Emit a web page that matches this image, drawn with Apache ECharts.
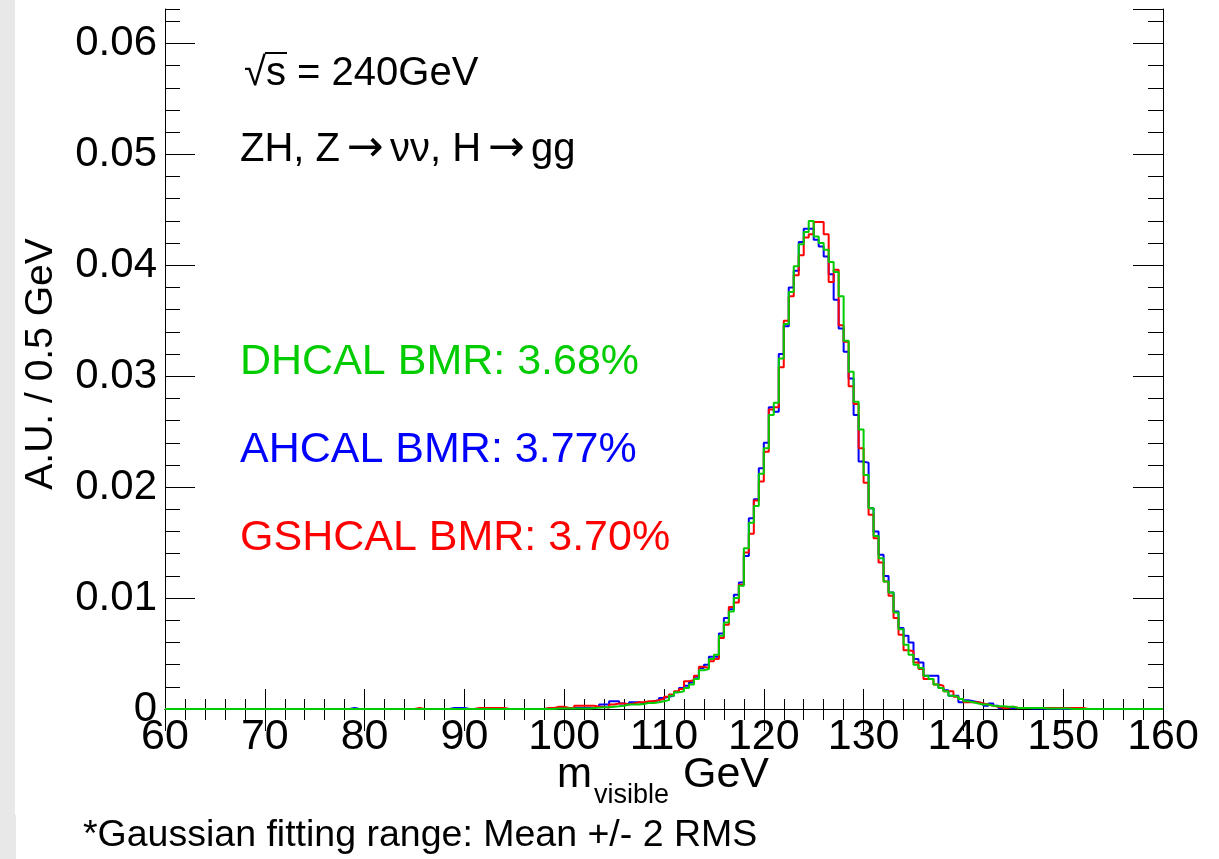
<!DOCTYPE html>
<html>
<head>
<meta charset="utf-8">
<script src="https://cdn.jsdelivr.net/npm/echarts@6/dist/echarts.min.js"></script>
<style>
html,body{margin:0;padding:0;background:#fff;}
#chart{width:1219px;height:859px;}
</style>
</head>
<body>
<div id="chart"></div>
<script>
// Histogram: 200 bins of 0.5 GeV from 60 to 160 GeV (values = bin contents, A.U.)
const binLow = 60;
const binWidth = 0.5;
const xTicks = [60, 70, 80, 90, 100, 110, 120, 130, 140, 150, 160];
const yTicks = [0, 0.01, 0.02, 0.03, 0.04, 0.05, 0.06];

const dhcal = [ // green
0,0,0,0,0,0,0,0,0,0,
0,0,0,0,0,0,0,0,0,0,
0,0,0,0,0,0,0,0,0,0,
0,0,0,0,0,0,0,0,0,0,
0,0,0,0,0,0,0,0,0,0,
0,0,0,0,0,0,0,0,0,0,
0,0,0,0,0,0,0,0,0,0,
0,0,0,0,0,0,0,0,0.00005,0.00005,
0.00005,0.00005,0.00005,0.00005,0.00005,0.0001,0.00012,0.00015,0.00015,0.0002,
0.00024,0.0003,0.0004,0.0004,0.0004,0.00045,0.00055,0.00055,0.0006,0.0007,
0.0008,0.0012,0.0015,0.0016,0.0019,0.0022,0.0027,0.0035,0.0036,0.0045,
0.0049,0.0066,0.0078,0.0088,0.0100,0.0111,0.0145,0.0168,0.0183,0.0212,
0.0235,0.0265,0.0276,0.0316,0.0347,0.0376,0.0399,0.0419,0.0430,0.0440,
0.0426,0.0420,0.0414,0.0403,0.0394,0.0372,0.0332,0.0304,0.0277,0.0252,
0.0211,0.0181,0.0156,0.0136,0.0115,0.0105,0.0087,0.0072,0.0058,0.0049,
0.0040,0.0037,0.0030,0.0027,0.0022,0.0019,0.0016,0.0012,0.0011,0.0009,
0.0007,0.0006,0.0005,0.0004,0.0004,0.0003,0.00025,0.00025,0.0002,0.0002,
0.0001,0.0001,0.0001,0.0001,0.0001,0.0001,0.00005,0.00005,0.00005,0.00005,
0.00005,0,0,0,0,0,0,0,0,0,
0,0,0,0,0,0,0,0,0,0
];

const ahcal = [ // blue
0,0,0,0,0,0,0,0,0,0,
0,0,0,0,0,0,0,0,0,0,
0,0,0,0,0,0,0,0,0,0,
0,0,0,0,0,0,0,0.0001,0,0,
0,0,0,0,0,0,0,0,0,0,
0,0,0,0,0,0,0,0.0001,0.0001,0.0001,
0,0,0,0,0,0,0,0,0,0,
0,0,0,0,0,0,0.00005,0.00005,0.0001,0.0001,
0.0001,0.0001,0.0001,0.0001,0.0001,0.0001,0.0002,0.0004,0.0004,0.0007,
0.0007,0.0005,0.0004,0.0006,0.0006,0.0005,0.0006,0.0007,0.0008,0.0010,
0.0011,0.0012,0.0015,0.0019,0.0021,0.0024,0.0029,0.0037,0.0040,0.0047,
0.0047,0.0068,0.0082,0.0090,0.0103,0.0114,0.0138,0.0172,0.0189,0.0217,
0.0240,0.0272,0.0268,0.0320,0.0345,0.0380,0.0395,0.0421,0.0433,0.0433,
0.0423,0.0417,0.0408,0.0392,0.0369,0.0343,0.0322,0.0298,0.0265,0.0223,
0.0222,0.0181,0.0160,0.0139,0.0120,0.0105,0.0088,0.0073,0.0066,0.0060,
0.0045,0.0042,0.0030,0.0030,0.0030,0.0019,0.0017,0.0012,0.0012,0.0006,
0.0008,0.0007,0.0006,0.0005,0.0003,0.0005,0.0003,0.0001,0.0001,0.0001,
0.0001,0.0001,0.0001,0.00005,0.00005,0.00005,0.00005,0.00005,0,0,
0,0,0,0,0,0,0,0,0,0,
0,0,0,0,0,0,0,0,0,0
];

const gshcal = [ // red
0,0,0,0,0,0,0,0,0,0,
0,0,0,0,0,0,0,0,0,0,
0,0,0,0,0,0,0,0,0,0,
0,0,0,0,0,0,0,0,0,0,
0,0,0,0,0,0,0,0,0,0,
0.0001,0,0,0,0,0,0,0,0,0,
0,0,0.0001,0.0001,0.0001,0.0001,0.0001,0.0001,0,0,
0,0,0,0,0,0,0.0001,0.0001,0.0002,0.0002,
0.0001,0.0001,0.0003,0.0003,0.0003,0.0003,0.0002,0.0002,0.0001,0.0004,
0.0005,0.0005,0.0004,0.0005,0.0006,0.0006,0.0007,0.0007,0.0008,0.0009,
0.0011,0.0013,0.0016,0.0018,0.0025,0.0026,0.0030,0.0038,0.0037,0.0043,
0.0045,0.0064,0.0076,0.0092,0.0096,0.0112,0.0141,0.0158,0.0188,0.0205,
0.0232,0.0270,0.0272,0.0308,0.0350,0.0372,0.0391,0.0409,0.0425,0.0428,
0.0439,0.0439,0.0428,0.0385,0.0396,0.0346,0.0331,0.0291,0.0275,0.0235,
0.0204,0.0175,0.0154,0.0132,0.0115,0.0102,0.0082,0.0067,0.0053,0.0052,
0.0042,0.0036,0.0027,0.0027,0.0022,0.0021,0.0016,0.0016,0.0011,0.0009,
0.0006,0.0006,0.0006,0.0005,0.0004,0.0003,0.0002,0.0001,0.0001,0.0002,
0.0001,0.0001,0.0001,0.0001,0.0001,0.0001,0.0001,0.0001,0.0001,0.0001,
0.0001,0.0001,0.0001,0.0001,0,0,0,0,0,0,
0,0,0,0,0,0,0,0,0,0
];

const labels = {
  energy: '\u221As = 240GeV',
  dhcal: 'DHCAL BMR: 3.68%',
  ahcal: 'AHCAL BMR: 3.77%',
  gshcal: 'GSHCAL BMR: 3.70%',
  yTitle: 'A.U. / 0.5 GeV',
  footer: '*Gaussian fitting range: Mean +/- 2 RMS'
};

const GREEN = '#00cc00', BLUE = '#0000ff', RED = '#ff0000';
const FONT = '"Liberation Sans", Arial, Helvetica, sans-serif';

function steps(vals) {
  const pts = vals.map((v, i) => [binLow + i * binWidth, v]);
  pts.push([binLow + vals.length * binWidth, vals[vals.length - 1]]);
  return pts;
}

const yMax = 0.0631;
const chart = echarts.init(document.getElementById('chart'), null, {renderer: 'canvas'});

const axisLineStyle = {show: true, lineStyle: {color: '#000', width: 1}};
const xCommon = {
  type: 'value', min: xTicks[0], max: xTicks[xTicks.length - 1], interval: 10,
  axisLine: axisLineStyle, splitLine: {show: false}
};

chart.setOption({
  animation: false,
  backgroundColor: '#ffffff',
  grid: {left: 165, right: 56, top: 9, bottom: 150, containLabel: false},
  xAxis: [
    Object.assign({}, xCommon, {
      position: 'bottom',
      axisTick: {show: true, inside: true, length: 20, lineStyle: {color: '#000', width: 1}},
      minorTick: {show: true, splitNumber: 5, length: 10, lineStyle: {color: '#000', width: 1}},
      axisLabel: {show: true, fontSize: 43, color: '#000', fontFamily: FONT, margin: 7}
    }),
    Object.assign({}, xCommon, {
      position: 'top',
      axisTick: {show: true, inside: true, length: 22, lineStyle: {color: '#000', width: 1}},
      minorTick: {show: true, splitNumber: 5, length: 11, lineStyle: {color: '#000', width: 1}},
      axisLabel: {show: false}
    })
  ],
  yAxis: [
    {
      type: 'value', position: 'left', min: 0, max: yMax, interval: 0.01,
      axisLine: axisLineStyle, splitLine: {show: false},
      axisTick: {show: true, inside: true, length: 30, lineStyle: {color: '#000'}},
      axisLabel: {show: true, fontSize: 42, color: '#000', fontFamily: FONT, margin: 8, showMaxLabel: false,
        formatter: v => (Math.abs(v - Math.round(v * 100) / 100) < 1e-9) ? String(yTicks[Math.round(v * 100)]) : ''}
    },
    {
      type: 'value', position: 'left', min: 0, max: yMax, interval: 0.002,
      axisLine: {show: false}, splitLine: {show: false},
      axisTick: {show: true, inside: true, length: 15, lineStyle: {color: '#000'}},
      axisLabel: {show: false}
    },
    {
      type: 'value', position: 'right', min: 0, max: yMax, interval: 0.01,
      axisLine: axisLineStyle, splitLine: {show: false},
      axisTick: {show: true, inside: true, length: 30, lineStyle: {color: '#000'}},
      axisLabel: {show: false}
    },
    {
      type: 'value', position: 'right', min: 0, max: yMax, interval: 0.002,
      axisLine: {show: false}, splitLine: {show: false},
      axisTick: {show: true, inside: true, length: 15, lineStyle: {color: '#000'}},
      axisLabel: {show: false}
    }
  ],
  series: [
    {name: 'AHCAL', type: 'line', step: 'end', data: steps(ahcal), showSymbol: false, symbol: 'none',
      lineStyle: {color: BLUE, width: 2}, z: 3},
    {name: 'GSHCAL', type: 'line', step: 'end', data: steps(gshcal), showSymbol: false, symbol: 'none',
      lineStyle: {color: RED, width: 2}, z: 4},
    {name: 'DHCAL', type: 'line', step: 'end', data: steps(dhcal), showSymbol: false, symbol: 'none',
      lineStyle: {color: GREEN, width: 2}, z: 5}
  ],
  graphic: [
    {type: 'rect', left: 0, top: 0, shape: {width: 15, height: 815}, style: {fill: '#e8e8e8'}, silent: true, z: -1},
    {type: 'rect', left: 0, top: 815, shape: {width: 16, height: 44}, style: {fill: '#e8e8e8'}, silent: true, z: -1},
    {type: 'text', x: 244, y: 74, style: {text: labels.energy, fontSize: 40, fontFamily: FONT, fill: '#000', verticalAlign: 'middle'}},
    {type: 'line', shape: {x1: 265, y1: 53, x2: 287, y2: 53}, style: {stroke: '#000', lineWidth: 2}},
    {type: 'text', x: 240, y: 150, style: {
      text: '{a|ZH, Z}{r|\u2192}{a|\u03BD\u03BD, H}{r|\u2192}{a|gg}',
      verticalAlign: 'middle', fill: '#000',
      rich: {
        a: {fontSize: 40, fontFamily: FONT, fill: '#000'},
        r: {fontSize: 44, fontFamily: '"DejaVu Sans", sans-serif', fill: '#000', width: 50, align: 'center'}
      }
    }},
    {type: 'text', x: 240, y: 362, style: {text: labels.dhcal, fontSize: 43, fontFamily: FONT, fill: GREEN, verticalAlign: 'middle'}},
    {type: 'text', x: 240, y: 450, style: {text: labels.ahcal, fontSize: 43, fontFamily: FONT, fill: BLUE, verticalAlign: 'middle'}},
    {type: 'text', x: 240, y: 538, style: {text: labels.gshcal, fontSize: 43, fontFamily: FONT, fill: RED, verticalAlign: 'middle'}},
    {type: 'text', x: 41, y: 364, rotation: Math.PI / 2, style: {text: labels.yTitle, fontSize: 39, fontFamily: FONT, fill: '#000', align: 'center', verticalAlign: 'middle'}},
    {type: 'text', x: 557, y: 775, style: {text: 'm', fontSize: 42, fontFamily: FONT, fill: '#000', verticalAlign: 'middle'}},
    {type: 'text', x: 594, y: 796, style: {text: 'visible', fontSize: 27, fontFamily: FONT, fill: '#000', verticalAlign: 'middle'}},
    {type: 'text', x: 683, y: 775, style: {text: 'GeV', fontSize: 43, fontFamily: FONT, fill: '#000', verticalAlign: 'middle'}},
    {type: 'text', x: 83, y: 836, style: {text: labels.footer, fontSize: 37.5, fontFamily: FONT, fill: '#000', verticalAlign: 'middle'}}
  ]
});
</script>
</body>
</html>
